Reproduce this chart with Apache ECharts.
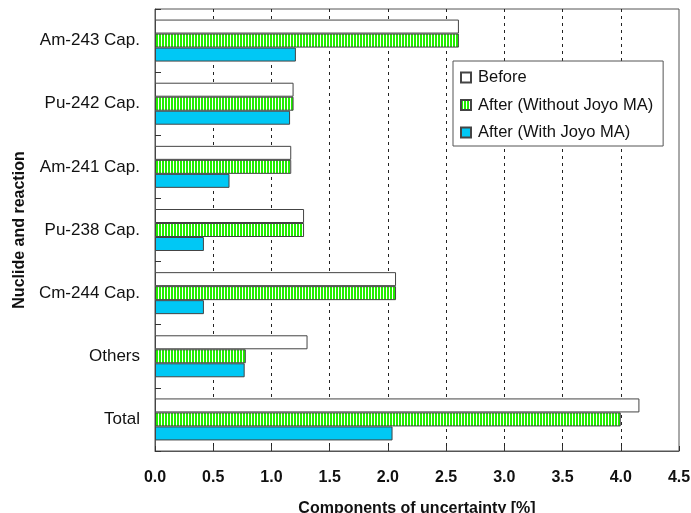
<!DOCTYPE html>
<html><head><meta charset="utf-8">
<script src="https://cdn.jsdelivr.net/npm/echarts@6/dist/echarts.min.js"></script>
<style>html,body{margin:0;padding:0;background:#fff}#c{width:691px;height:513px}</style>
</head><body><div id="c"></div>
<script>
const categories = ['Am-243 Cap.', 'Pu-242 Cap.', 'Am-241 Cap.', 'Pu-238 Cap.', 'Cm-244 Cap.', 'Others', 'Total'];
const seriesNames = ['Before', 'After (Without Joyo MA)', 'After (With Joyo MA)'];
const before = [2.61, 1.19, 1.17, 1.28, 2.07, 1.31, 4.16];
const afterWithout = [2.61, 1.19, 1.17, 1.28, 2.07, 0.78, 4.00];
const afterWith = [1.21, 1.16, 0.64, 0.42, 0.42, 0.77, 2.04];

const pc = document.createElement('canvas');
pc.width = 3; pc.height = 4;
const pctx = pc.getContext('2d');
pctx.fillStyle = '#ffffff'; pctx.fillRect(0, 0, 3, 4);
pctx.fillStyle = '#22ee00'; pctx.fillRect(0, 0, 2, 4);
const stripe = { image: pc, repeat: 'repeat' };

const font = 'Liberation Sans, Arial, sans-serif';
const chart = echarts.init(document.getElementById('c'));
const border = { borderColor: '#444', borderWidth: 1 };
chart.setOption({
  animation: false,
  backgroundColor: '#fff',
  grid: { left: 155, right: 12, top: 9, bottom: 62, show: true, borderColor: '#555', borderWidth: 1, containLabel: false, outerBoundsMode: 'none' },
  legend: {
    orient: 'vertical', left: 453, top: 61,
    backgroundColor: '#fff', borderColor: '#555', borderWidth: 1,
    padding: [8, 10, 5, 7], itemGap: 10.5,
    icon: 'rect', itemWidth: 10, itemHeight: 10,
    textStyle: { fontFamily: font, fontSize: 16.5, color: '#111', padding: [0, 0, 0, 2] },
    data: seriesNames
  },
  xAxis: {
    type: 'value', min: 0, max: 4.5, interval: 0.5,
    name: 'Components of uncertainty [%]', nameLocation: 'middle', nameGap: 50,
    nameTextStyle: { fontFamily: font, fontSize: 16, fontWeight: 'bold', color: '#111' },
    axisLine: { show: true, lineStyle: { color: '#555' } },
    axisTick: { show: true, inside: true, length: 5, lineStyle: { color: '#333' } },
    axisLabel: { fontFamily: font, fontSize: 16, fontWeight: 'bold', color: '#111', margin: 19, formatter: v => v.toFixed(1) },
    splitLine: { show: true, showMaxLine: false, showMinLine: false, lineStyle: { color: '#222', type: [3, 4], width: 1 } }
  },
  yAxis: {
    type: 'category', data: categories, inverse: true,
    name: 'Nuclide and reaction', nameLocation: 'middle', nameGap: 123, nameRotate: 90,
    nameTextStyle: { fontFamily: font, fontSize: 16, fontWeight: 'bold', color: '#111' },
    axisLine: { show: true, lineStyle: { color: '#555' } },
    axisTick: { show: true, inside: true, length: 6, lineStyle: { color: '#333' } },
    axisLabel: { fontFamily: font, fontSize: 17, color: '#111', margin: 15 },
    splitLine: { show: false }
  },
  series: [
    { name: seriesNames[0], type: 'bar', data: before, barWidth: 14, barGap: '0%', itemStyle: Object.assign({ color: '#ffffff' }, border) },
    { name: seriesNames[1], type: 'bar', data: afterWithout, barWidth: 14, barGap: '0%', itemStyle: Object.assign({ color: stripe }, border) },
    { name: seriesNames[2], type: 'bar', data: afterWith, barWidth: 14, barGap: '0%', itemStyle: Object.assign({ color: '#00c8f5' }, border) }
  ]
});
</script></body></html>
